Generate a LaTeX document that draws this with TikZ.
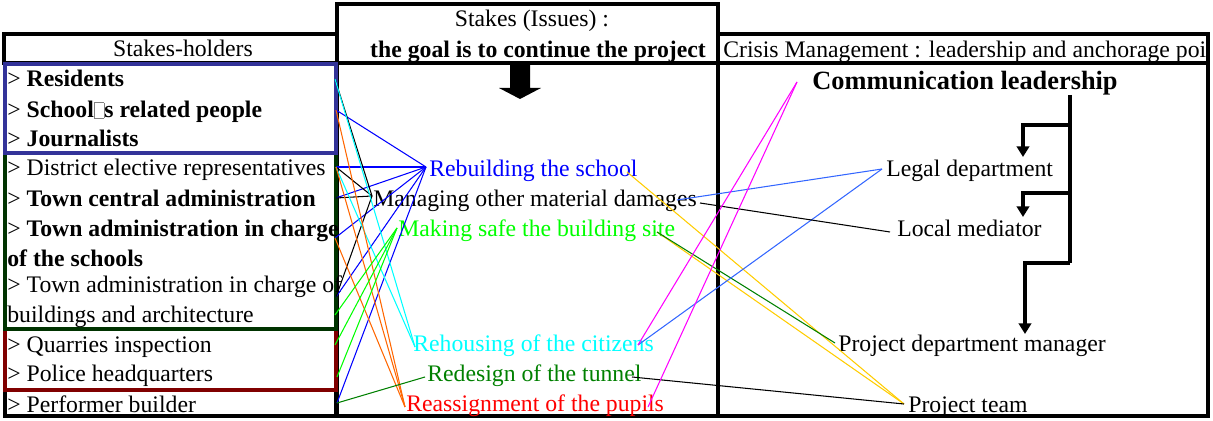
\documentclass[tikz,border=0pt]{standalone}
\usepackage{fontspec}
\setmainfont{Liberation Serif}
\usetikzlibrary{arrows.meta}
\definecolor{boxblue}{HTML}{333399}
\definecolor{boxgreen}{HTML}{003300}
\definecolor{boxred}{HTML}{800000}
\definecolor{itgreen}{HTML}{00FF00}
\definecolor{itcyan}{HTML}{00FFFF}
\definecolor{itdkgreen}{HTML}{008000}
\definecolor{lnorange}{HTML}{FF6600}
\definecolor{lnyellow}{HTML}{FFCC00}
\definecolor{lnblue}{HTML}{3366FF}
\definecolor{lnmagenta}{HTML}{FF00FF}
\newcommand{\tofubox}{\textcolor{gray}{\setlength{\fboxsep}{0pt}\setlength{\fboxrule}{0.5pt}\fbox{\rule{0pt}{8.5pt}\hspace{5pt}}}}
\tikzset{
    txt/.style={anchor=base west, inner sep=0pt, font=\fontsize{13.5}{16}\selectfont},
    frame/.style={line width=2pt},
    group/.style={line width=2.8pt},
    link/.style={line width=0.6pt},
    bar/.style={line width=1.8pt},
    barrow/.style={line width=1.8pt, -{Triangle[width=7pt,length=6pt]}}
}
\begin{document}
\begin{tikzpicture}[x=0.02cm, y=-0.02cm]
    \useasboundingbox (0,0) rectangle (1213,421);
    \draw[frame] (4,34) rectangle (337,63);
    \draw[frame] (337,4) rectangle (718,63);
    \draw[frame] (718,34) rectangle (1208,63);
    \draw[frame] (337,63) rectangle (718,416);
    \draw[frame] (718,63) rectangle (1208,416);
    \draw[group] (5,390) rectangle (336,416);
    \draw[group, boxred] (5,329) rectangle (336,390);
    \draw[group, boxgreen] (5,153) rectangle (336,329);
    \draw[group, boxblue] (5,64) rectangle (336,153);
    \fill (510,64) -- (530,64) -- (530,88) -- (541,88) -- (520,99) -- (499,88) -- (510,88) -- cycle;
    \node[txt, anchor=base] (hold) at (183,57) {Stakes-holders};
    \node[txt, anchor=base] (stakes) at (532,27) {Stakes (Issues) :};
    \node[txt, anchor=base] (goal) at (538,58) {\textbf{the goal is to continue the project}};
    \begin{scope}
        \clip (719,35) rectangle (1207,62);
        \node[txt] (crisis) at (723,58) {Crisis Management : leadership and anchorage poi};
    \end{scope}
    \node[txt] (res) at (7,87) {> \textbf{Residents}};
    \node[txt] (sch) at (7,118) {> \textbf{School\tofubox s related people}};
    \node[txt] (jour) at (7,147) {> \textbf{Journalists}};
    \node[txt] (dis) at (7,176) {> District elective representatives};
    \node[txt] (tca) at (7,207) {> \textbf{Town central administration}};
    \node[txt] (tas) at (7,237) {> \textbf{Town administration in charge}};
    \node[txt] (tas2) at (7,267) {\textbf{of the schools}};
    \node[txt] (tab) at (7,293) {> Town administration in charge of};
    \node[txt] (tab2) at (7,323) {buildings and architecture};
    \node[txt] (qua) at (7,353) {> Quarries inspection};
    \node[txt] (pol) at (7,382) {> Police headquarters};
    \node[txt] (perf) at (7,413) {> Performer builder};
    \node[txt, blue] (reb) at (429,177) {Rebuilding the school};
    \node[txt] (man) at (373,207) {Managing other material damages};
    \node[txt, itgreen] (mak) at (398,237) {Making safe the building site};
    \node[txt, itcyan] (reh) at (413,352) {Rehousing of the citizens};
    \node[txt, itdkgreen] (rede) at (427,382) {Redesign of the tunnel};
    \node[txt, red] (rea) at (406,412) {Reassignment of the pupils};
    \node[txt, font=\fontsize{15}{18}\selectfont\bfseries] (com) at (812,90) {Communication leadership};
    \node[txt] (leg) at (886,177) {Legal department};
    \node[txt] (loc) at (897,237) {Local mediator};
    \node[txt] (pdm) at (838,352) {Project department manager};
    \node[txt] (team) at (908,413) {Project team};
    \coordinate (resE) at (335,79);
    \coordinate (schE) at (336,110);
    \coordinate (disE) at (336,167);
    \coordinate (tcaE) at (336,198);
    \coordinate (tasE) at (335,238);
    \coordinate (tabE) at (336,297);
    \coordinate (g1E) at (335,315);
    \coordinate (g2E) at (335,345);
    \coordinate (g3E) at (337,377);
    \coordinate (perfE) at (337,403);
    \coordinate (rebW) at (426,167);
    \coordinate (manW) at (372,196);
    \coordinate (makW) at (397,228);
    \coordinate (rehW) at (415,347);
    \coordinate (redeW) at (425,377);
    \coordinate (reaW) at (405,407);
    \coordinate (rebE) at (627,172);
    \coordinate (manE) at (677,200);
    \coordinate (manE2) at (700,203);
    \coordinate (makE) at (657,232);
    \coordinate (rehE) at (638,345);
    \coordinate (redeE) at (632,377);
    \coordinate (reaE) at (648,407);
    \coordinate (comW) at (797,82);
    \coordinate (legW) at (882,169);
    \coordinate (locW) at (890,232);
    \coordinate (pdmW) at (835,343);
    \coordinate (teamW) at (904,404);
    \draw[link, blue] (schE) -- (rebW);
    \draw[link, blue] (disE) -- (rebW);
    \draw[link, blue] (tcaE) -- (rebW);
    \draw[link, blue] (tasE) -- (rebW);
    \draw[link, blue] (tabE) -- (rebW);
    \draw[link, blue] (perfE) -- (rebW);
    \draw[link] (resE) -- (manW);
    \draw[link] (disE) -- (manW);
    \draw[link] (tcaE) -- (manW);
    \draw[link] (tabE) -- (manW);
    \draw[link, itcyan] (resE) -- (rehW);
    \draw[link, itcyan] (disE) -- (rehW);
    \draw[link, lnorange] (schE) -- (reaW);
    \draw[link, lnorange] (disE) -- (reaW);
    \draw[link, lnorange] (tasE) -- (reaW);
    \draw[link, itgreen] (g1E) -- (makW);
    \draw[link, itgreen] (g2E) -- (makW);
    \draw[link, itgreen] (g3E) -- (makW);
    \draw[link, itdkgreen] (perfE) -- (redeW);
    \draw[link, lnyellow] (rebE) -- (teamW);
    \draw[link, lnyellow] (makE) -- (teamW);
    \draw[link, itdkgreen] (makE) -- (pdmW);
    \draw[link, lnblue] (manE) -- (legW);
    \draw[link, lnblue] (rehE) -- (legW);
    \draw[link] (manE2) -- (locW);
    \draw[link] (redeE) -- (teamW);
    \draw[link, lnmagenta] (rehE) -- (comW);
    \draw[link, lnmagenta] (reaE) -- (comW);
    \coordinate (lead) at (1070,95);
    \coordinate (br1) at (1070,125);
    \coordinate (br2) at (1070,193);
    \coordinate (br3) at (1070,263);
    \coordinate (legN) at (1023,157);
    \coordinate (locN) at (1023,217);
    \coordinate (pdmN) at (1025,334);
    \draw[bar] (lead) -- (br3);
    \draw[barrow] (br1) -| (legN);
    \draw[barrow] (br2) -| (locN);
    \draw[barrow] (br3) -| (pdmN);
\end{tikzpicture}
\end{document}
